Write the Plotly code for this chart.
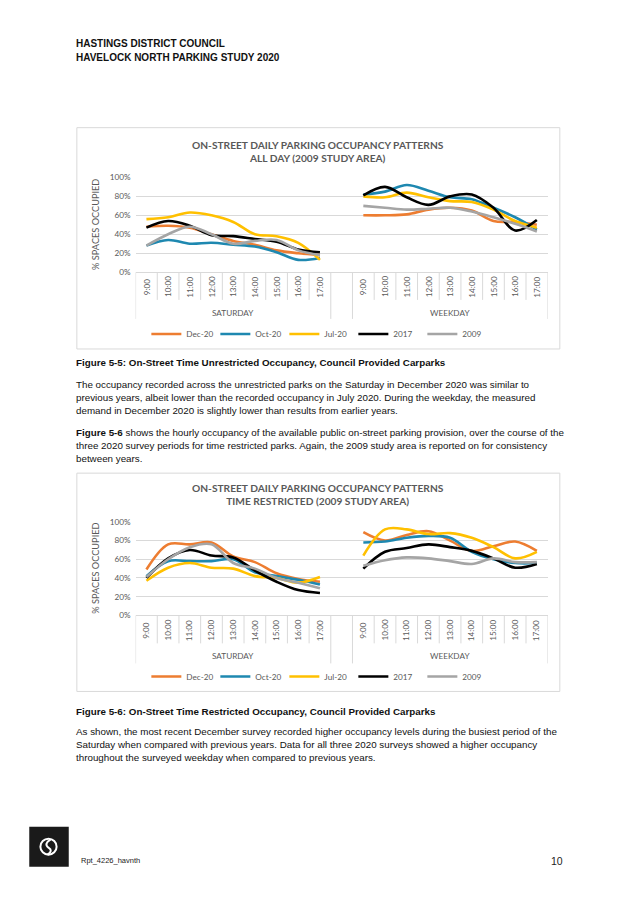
import plotly.graph_objects as go

W, H = 638, 900

# ---------------- data ----------------
times = ["9:00", "10:00", "11:00", "12:00", "13:00", "14:00", "15:00", "16:00", "17:00"]
groups = ["SATURDAY", "WEEKDAY"]
series_names = ["Dec-20", "Oct-20", "Jul-20", "2017", "2009"]
series_colors = ["#ED7D31", "#1E88B0", "#FFC000", "#000000", "#A5A5A5"]
y_ticks = [0, 20, 40, 60, 80, 100]
y_tick_labels = ["0%", "20%", "40%", "60%", "80%", "100%"]

# Chart 1: All day (2009 study area)
ad_sat_dec20 = [48, 49, 47, 40, 33, 29, 23, 20, 18]
ad_sat_oct20 = [28, 34, 30, 31, 29, 27, 21, 13, 15]
ad_sat_jul20 = [56, 58, 63, 60, 53, 40, 38, 31, 13]
ad_sat_2017 = [47, 54, 49, 39, 38, 35, 32, 24, 21]
ad_sat_2009 = [28, 40, 48, 40, 30, 33, 34, 23, 18]
ad_wk_dec20 = [60, 60, 61, 66, 68, 65, 54, 53, 50]
ad_wk_oct20 = [82, 85, 92, 86, 79, 77, 68, 58, 45]
ad_wk_jul20 = [80, 79, 84, 79, 75, 74, 66, 54, 47]
ad_wk_2017 = [81, 90, 79, 71, 80, 82, 68, 44, 55]
ad_wk_2009 = [70, 68, 66, 67, 68, 64, 58, 51, 43]

# Chart 2: Time restricted (2009 study area)
tr_sat_dec20 = [49, 76, 76, 78, 63, 57, 45, 39, 36]
tr_sat_oct20 = [42, 58, 58, 58, 60, 46, 42, 38, 33]
tr_sat_jul20 = [37, 51, 56, 51, 50, 42, 40, 35, 41]
tr_sat_2017 = [40, 61, 70, 64, 62, 48, 36, 27, 24]
tr_sat_2009 = [41, 60, 73, 76, 56, 50, 40, 35, 29]
tr_wk_dec20 = [89, 80, 86, 90, 80, 69, 74, 79, 69]
tr_wk_oct20 = [78, 79, 83, 85, 83, 68, 60, 56, 56]
tr_wk_jul20 = [64, 92, 92, 87, 88, 83, 73, 61, 68]
tr_wk_2017 = [50, 68, 72, 76, 73, 69, 61, 51, 55]
tr_wk_2009 = [53, 59, 62, 61, 58, 55, 61, 57, 57]

chart1_sat = [ad_sat_dec20, ad_sat_oct20, ad_sat_jul20, ad_sat_2017, ad_sat_2009]
chart1_wk = [ad_wk_dec20, ad_wk_oct20, ad_wk_jul20, ad_wk_2017, ad_wk_2009]
chart2_sat = [tr_sat_dec20, tr_sat_oct20, tr_sat_jul20, tr_sat_2017, tr_sat_2009]
chart2_wk = [tr_wk_dec20, tr_wk_oct20, tr_wk_jul20, tr_wk_2017, tr_wk_2009]

chart1_title = "ON-STREET DAILY PARKING OCCUPANCY PATTERNS<br>ALL DAY (2009 STUDY AREA)"
chart2_title = "ON-STREET DAILY PARKING OCCUPANCY PATTERNS<br>TIME RESTRICTED (2009 STUDY AREA)"
y_title = "% SPACES OCCUPIED"

# ---------------- helpers ----------------
# page-pixel -> paper fraction (compensates the page offset/scale seen in the capture)
AX, BX = 0.9876, 12.0
AY, BY = 0.9875, 13.5


def fx(px):
    return ((px - BX) / AX) / W


def fy(py):
    return 1 - ((py - BY) / AY) / H


n = len(times)
x_sat = list(range(n))
x_wk = [n + 1 + i for i in range(n)]
x_all = x_sat + [n] + x_wk
ncat = len(x_all)

GRAY = "#595959"
GRID = "#D9D9D9"
CFONT = "Lato"
TFONT = "Liberation Sans"

fig = go.Figure()
shapes = []
annotations = []

charts = [
    dict(sat=chart1_sat, wk=chart1_wk, title=chart1_title, xa="x", ya="y", leg="legend",
         box=(80, 128, 557, 349), plot=(138, 177.7, 545, 272.3), title_y=151.5,
         tick_y=287, short_end=300, long_end=319, group_y=313, legend_y=334, ytitle_x=99),
    dict(sat=chart2_sat, wk=chart2_wk, title=chart2_title, xa="x2", ya="y2", leg="legend2",
         box=(80, 473, 557, 691), plot=(138, 521.7, 545, 615), title_y=494.5,
         tick_y=630, short_end=643, long_end=663, group_y=656, legend_y=676, ytitle_x=99),
]

for ci, ch in enumerate(charts):
    x0, y0, x1, y1 = ch["plot"]
    axsuffix = "" if ci == 0 else "2"
    for si, name in enumerate(series_names):
        yv = ch["sat"][si] + [None] + ch["wk"][si]
        fig.add_trace(go.Scatter(
            x=x_all, y=yv, mode="lines", name=name,
            line=dict(color=series_colors[si], width=2.6, shape="spline", smoothing=1.0),
            connectgaps=False, xaxis=ch["xa"], yaxis=ch["ya"], legend=ch["leg"],
            hoverinfo="skip",
        ))
    fig.update_layout(**{
        "xaxis" + axsuffix: dict(domain=[fx(x0), fx(x1)], range=[-0.5, ncat - 0.5],
                                 showgrid=False, zeroline=False, showticklabels=False,
                                 showline=True, linecolor=GRID, linewidth=1,
                                 anchor="y" + axsuffix, fixedrange=True),
        "yaxis" + axsuffix: dict(domain=[fy(y1), fy(y0)], range=[0, 100],
                                 tickvals=y_ticks, ticktext=y_tick_labels, showgrid=True,
                                 gridcolor=GRID, gridwidth=1, zeroline=False,
                                 showline=False, tickfont=dict(family=CFONT, size=8.2, color=GRAY),
                                 ticklabelstandoff=4,
                                 anchor="x" + axsuffix, fixedrange=True),
    })
    # chart border
    bx0, by0, bx1, by1 = ch["box"]
    shapes.append(dict(type="rect", xref="paper", yref="paper",
                       x0=fx(bx0), x1=fx(bx1), y0=fy(by1), y1=fy(by0),
                       line=dict(color=GRID, width=1), fillcolor="rgba(0,0,0,0)", layer="below"))
    # category separators below axis
    for b in range(ncat + 1):
        xb = b - 0.5
        long = b in (0, n, n + 1, ncat)
        shapes.append(dict(type="line", xref=ch["xa"], yref="paper", x0=xb, x1=xb,
                           y0=fy(y1), y1=fy(ch["long_end"] if long else ch["short_end"]),
                           line=dict(color=GRID, width=1)))
    # time tick labels
    for xi, t in zip(x_sat + x_wk, times + times):
        annotations.append(dict(x=xi, y=fy(ch["tick_y"]), xref=ch["xa"], yref="paper",
                                text=t, textangle=-90, showarrow=False,
                                font=dict(family=CFONT, size=8.2, color=GRAY),
                                xanchor="center", yanchor="middle"))
    # group labels
    for gx, g in zip([(x_sat[0] + x_sat[-1]) / 2, (x_wk[0] + x_wk[-1]) / 2], groups):
        annotations.append(dict(x=gx, y=fy(ch["group_y"]), xref=ch["xa"], yref="paper",
                                text=g, showarrow=False,
                                font=dict(family=CFONT, size=8.2, color=GRAY),
                                xanchor="center", yanchor="middle"))
    # chart title
    annotations.append(dict(x=fx(318), y=fy(ch["title_y"]), xref="paper", yref="paper",
                            text="<b>" + ch["title"] + "</b>", showarrow=False,
                            font=dict(family=CFONT, size=10.2, color=GRAY),
                            xanchor="center", yanchor="middle", align="center"))
    # y title
    annotations.append(dict(x=fx(ch["ytitle_x"]), y=(fy(y0) + fy(y1)) / 2, xref="paper", yref="paper",
                            text=y_title, textangle=-90, showarrow=False,
                            font=dict(family=CFONT, size=9.2, color=GRAY),
                            xanchor="center", yanchor="middle"))
    fig.update_layout(**{
        ch["leg"]: dict(orientation="h", x=fx(319), y=fy(ch["legend_y"]), xanchor="center",
                        yanchor="middle", entrywidth=24, entrywidthmode="pixels",
                        font=dict(family=CFONT, size=8.2, color=GRAY),
                        bgcolor="rgba(0,0,0,0)", borderwidth=0),
    })

# ---------------- page text ----------------
def txt(x, y, s, size=9.8, bold=False, color="#111111", anchor="left"):
    annotations.append(dict(x=fx(x), y=fy(y), xref="paper", yref="paper",
                            text=("<b>" + s + "</b>") if bold else s, showarrow=False,
                            font=dict(family=TFONT, size=size, color=color),
                            xanchor=anchor, yanchor="middle", align="left"))


txt(77, 44, "HASTINGS DISTRICT COUNCIL", 10, True)
txt(77, 58, "HAVELOCK NORTH PARKING STUDY 2020", 10, True)

txt(77, 363, "Figure 5-5: On-Street Time Unrestricted Occupancy, Council Provided Carparks", 9.8, True)
para1 = [
    "The occupancy recorded across the unrestricted parks on the Saturday in December 2020 was similar to",
    "previous years, albeit lower than the recorded occupancy in July 2020. During the weekday, the measured",
    "demand in December 2020 is slightly lower than results from earlier years.",
]
for i, s in enumerate(para1):
    txt(77, 384 + 13 * i, s)
para2 = [
    "<b>Figure 5-6</b> shows the hourly occupancy of the available public on-street parking provision, over the course of the",
    "three 2020 survey periods for time restricted parks. Again, the 2009 study area is reported on for consistency",
    "between years.",
]
for i, s in enumerate(para2):
    txt(77, 432 + 13 * i, s)

txt(77, 711, "Figure 5-6: On-Street Time Restricted Occupancy, Council Provided Carparks", 9.8, True)
para3 = [
    "As shown, the most recent December survey recorded higher occupancy levels during the busiest period of the",
    "Saturday when compared with previous years. Data for all three 2020 surveys showed a higher occupancy",
    "throughout the surveyed weekday when compared to previous years.",
]
for i, s in enumerate(para3):
    txt(77, 731 + 13 * i, s)

# footer
shapes.append(dict(type="rect", xref="paper", yref="paper", x0=fx(33), x1=fx(72), y0=fy(866), y1=fy(826),
                   fillcolor="#1A1A1A", line=dict(width=0)))
shapes.append(dict(type="circle", xref="paper", yref="paper", x0=fx(44), x1=fx(60), y0=fy(854), y1=fy(838),
                   line=dict(color="white", width=2), fillcolor="rgba(0,0,0,0)"))
shapes.append(dict(type="path", xref="paper", yref="paper",
                   path="M {} {} Q {} {} {} {} Q {} {} {} {}".format(
                       fx(54), fy(839), fx(47), fy(843), fx(52), fy(847), fx(57), fy(850), fx(51), fy(854)),
                   line=dict(color="white", width=2)))
txt(82, 860, "Rpt_4226_havnth", 7.5, False, "#222222")
txt(562, 860, "10", 10.5, False, "#222222", "right")

fig.update_layout(width=W, height=H, margin=dict(l=0, r=0, t=0, b=0),
                  paper_bgcolor="white", plot_bgcolor="white",
                  shapes=shapes, annotations=annotations, showlegend=True)

fig.write_html("out.html")
